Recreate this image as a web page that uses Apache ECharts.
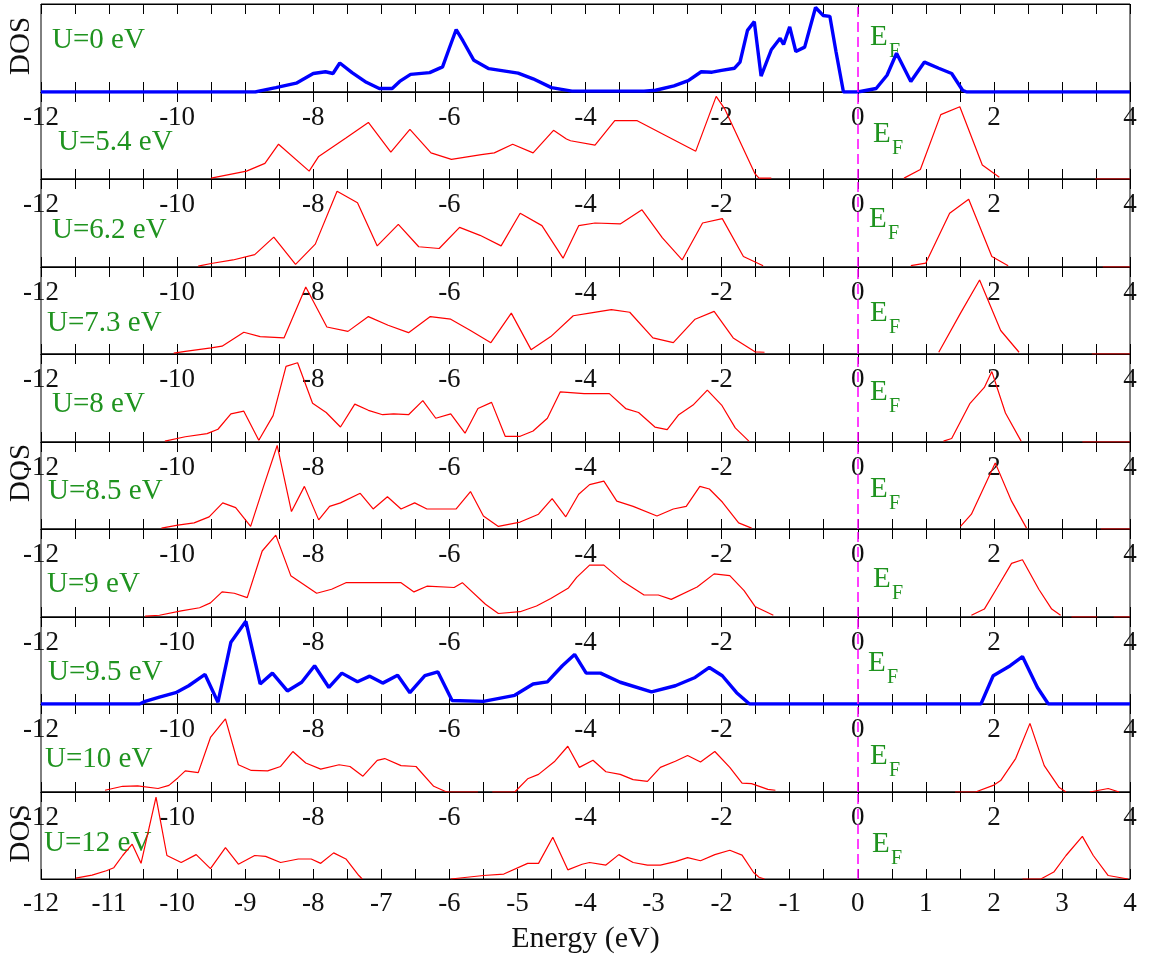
<!DOCTYPE html>
<html>
<head>
<meta charset="utf-8">
<script src="https://cdn.jsdelivr.net/npm/echarts@6/dist/echarts.min.js"></script>
<style>html,body{margin:0;padding:0;background:#fff}#c{width:1149px;height:958px}</style>
</head>
<body>
<div id="c"></div>
<script>
// ---------------- DATA ----------------
const uLabels = ['U=0 eV','U=5.4 eV','U=6.2 eV','U=7.3 eV','U=8 eV','U=8.5 eV','U=9 eV','U=9.5 eV','U=10 eV','U=12 eV'];
const innerTickLabels = [-12,-10,-8,-6,-4,-2,0,2,4];
const bottomTickLabels = [-12,-11,-10,-9,-8,-7,-6,-5,-4,-3,-2,-1,0,1,2,3,4];
const fermiEnergy = 0;

const dosU0 = [[[-12,0],[-8.85,0],[-8.8,0.01],[-8.55,0.05],[-8.25,0.10],[-8.0,0.21],[-7.82,0.23],[-7.71,0.21],[-7.61,0.33],[-7.43,0.22],[-7.22,0.11],[-7.03,0.04],[-6.84,0.04],[-6.73,0.12],[-6.57,0.20],[-6.29,0.22],[-6.10,0.285],[-6.0,0.50],[-5.90,0.71],[-5.80,0.58],[-5.64,0.36],[-5.42,0.265],[-4.99,0.215],[-4.77,0.15],[-4.5,0.05],[-4.2,0.01],[-3.89,0.01],[-3.14,0.01],[-2.97,0.02],[-2.70,0.07],[-2.49,0.13],[-2.30,0.23],[-2.14,0.225],[-2.0,0.245],[-1.81,0.27],[-1.73,0.34],[-1.62,0.70],[-1.52,0.80],[-1.42,0.18],[-1.27,0.48],[-1.14,0.61],[-1.09,0.54],[-1.0,0.74],[-0.91,0.46],[-0.78,0.51],[-0.62,0.96],[-0.51,0.87],[-0.41,0.86],[-0.32,0.46],[-0.21,0],[0,0],[0.27,0.04],[0.43,0.19],[0.57,0.44],[0.78,0.12],[0.98,0.34],[1.19,0.27],[1.38,0.21],[1.54,0.02],[1.6,0],[4,0]]];

const dosU54 = [
  [[-9.50,0.01],[-8.98,0.09],[-8.71,0.18],[-8.51,0.40],[-8.06,0.09],[-7.92,0.26],[-7.52,0.47],[-7.19,0.65],[-6.86,0.31],[-6.58,0.57],[-6.27,0.30],[-5.97,0.225],[-5.53,0.28],[-5.34,0.30],[-5.07,0.40],[-4.77,0.30],[-4.47,0.56],[-4.28,0.46],[-4.22,0.44],[-3.86,0.39],[-3.57,0.67],[-3.24,0.67],[-2.38,0.32],[-2.08,0.95],[-1.95,0.80],[-1.51,0.06],[-1.45,0.01],[-1.27,0.01]],
  [[0.68,0.01],[0.92,0.11],[1.22,0.74],[1.50,0.83],[1.83,0.16],[2.08,0.02]],
  [[3.49,0],[4,0]]
];

const dosU62 = [
  [[-9.69,0.01],[-9.5,0.04],[-9.18,0.08],[-8.86,0.14],[-8.58,0.34],[-8.26,0.03],[-7.97,0.26],[-7.65,0.86],[-7.35,0.73],[-7.06,0.24],[-6.75,0.485],[-6.45,0.23],[-6.15,0.21],[-5.85,0.45],[-5.55,0.36],[-5.24,0.24],[-4.96,0.61],[-4.64,0.47],[-4.33,0.10],[-4.1,0.47],[-3.86,0.50],[-3.49,0.49],[-3.17,0.65],[-2.87,0.33],[-2.58,0.08],[-2.28,0.50],[-1.99,0.55],[-1.68,0.12],[-1.39,0.015]],
  [[0.78,0.015],[1.0,0.045],[1.35,0.61],[1.63,0.77],[1.97,0.12],[2.21,0.015]],
  [[3.6,0],[4,0]]
];

const dosU73 = [
  [[-10.05,0.01],[-9.88,0.03],[-9.5,0.07],[-9.34,0.09],[-9.02,0.25],[-8.78,0.20],[-8.43,0.185],[-8.11,0.77],[-7.80,0.31],[-7.49,0.26],[-7.19,0.43],[-6.90,0.33],[-6.60,0.245],[-6.28,0.43],[-5.98,0.40],[-5.69,0.27],[-5.39,0.13],[-5.09,0.47],[-4.80,0.05],[-4.51,0.20],[-4.18,0.44],[-3.94,0.47],[-3.62,0.51],[-3.35,0.48],[-3.01,0.185],[-2.71,0.13],[-2.39,0.40],[-2.11,0.49],[-1.83,0.185],[-1.51,0.025],[-1.37,0.02]],
  [[1.19,0.02],[1.51,0.47],[1.79,0.85],[2.10,0.27],[2.37,0.02]],
  [[3.44,0],[4,0]]
];

const dosU8 = [
  [[-10.18,0.01],[-9.88,0.06],[-9.56,0.095],[-9.40,0.145],[-9.21,0.32],[-9.02,0.35],[-8.80,0.02],[-8.59,0.30],[-8.40,0.86],[-8.23,0.90],[-8.01,0.44],[-7.81,0.335],[-7.60,0.17],[-7.39,0.43],[-7.19,0.36],[-6.98,0.31],[-6.82,0.32],[-6.60,0.31],[-6.39,0.47],[-6.20,0.27],[-5.98,0.32],[-5.77,0.10],[-5.58,0.38],[-5.38,0.45],[-5.18,0.065],[-4.96,0.065],[-4.77,0.125],[-4.56,0.27],[-4.37,0.57],[-4.02,0.55],[-3.65,0.55],[-3.41,0.38],[-3.22,0.335],[-2.98,0.17],[-2.80,0.14],[-2.63,0.31],[-2.42,0.42],[-2.21,0.59],[-2.0,0.42],[-1.80,0.16],[-1.60,0.01]],
  [[1.26,0.01],[1.38,0.04],[1.65,0.44],[1.86,0.62],[1.97,0.80],[2.17,0.33],[2.40,0.01]],
  [[3.3,0],[4,0]]
];

const dosU85 = [
  [[-10.23,0.01],[-9.99,0.045],[-9.75,0.07],[-9.53,0.14],[-9.33,0.30],[-9.14,0.245],[-8.92,0.03],[-8.73,0.49],[-8.53,0.96],[-8.32,0.20],[-8.13,0.49],[-7.92,0.105],[-7.76,0.26],[-7.60,0.30],[-7.31,0.41],[-7.12,0.23],[-6.91,0.37],[-6.71,0.23],[-6.51,0.30],[-6.33,0.23],[-5.90,0.23],[-5.69,0.43],[-5.50,0.15],[-5.28,0.03],[-4.96,0.08],[-4.69,0.17],[-4.49,0.35],[-4.29,0.14],[-4.10,0.40],[-3.94,0.51],[-3.73,0.55],[-3.54,0.32],[-3.30,0.26],[-2.95,0.15],[-2.71,0.23],[-2.52,0.26],[-2.32,0.49],[-2.18,0.46],[-1.99,0.31],[-1.75,0.07],[-1.56,0.01]],
  [[1.51,0.03],[1.67,0.17],[2.02,0.76],[2.26,0.32],[2.48,0.01]],
  [[3.57,0],[4,0]]
];

const dosU9 = [
  [[-10.47,0.01],[-10.26,0.02],[-9.94,0.07],[-9.67,0.105],[-9.51,0.16],[-9.34,0.285],[-9.16,0.27],[-8.97,0.22],[-8.75,0.75],[-8.55,0.93],[-8.33,0.47],[-7.95,0.27],[-7.73,0.315],[-7.52,0.39],[-6.71,0.39],[-6.52,0.285],[-6.33,0.35],[-5.93,0.335],[-5.81,0.39],[-5.47,0.145],[-5.28,0.04],[-4.96,0.06],[-4.72,0.125],[-4.51,0.21],[-4.25,0.33],[-4.13,0.45],[-3.94,0.59],[-3.73,0.59],[-3.46,0.41],[-3.14,0.25],[-2.93,0.25],[-2.74,0.20],[-2.36,0.34],[-2.11,0.49],[-1.88,0.47],[-1.67,0.30],[-1.51,0.12],[-1.24,0.02]],
  [[1.67,0.02],[1.86,0.09],[2.05,0.335],[2.26,0.61],[2.42,0.65],[2.66,0.315],[2.85,0.09],[2.98,0.02]],
  [[3.14,0],[3.52,0]],
  [[3.76,0],[4,0]]
];

const dosU95 = [[[-12,0],[-10.55,0],[-10.47,0.03],[-10.26,0.08],[-10.02,0.13],[-9.83,0.21],[-9.59,0.34],[-9.40,0.02],[-9.21,0.71],[-8.99,0.95],[-8.78,0.23],[-8.60,0.355],[-8.38,0.15],[-8.17,0.25],[-7.98,0.44],[-7.77,0.19],[-7.58,0.355],[-7.35,0.255],[-7.17,0.32],[-6.98,0.24],[-6.76,0.33],[-6.58,0.13],[-6.36,0.325],[-6.17,0.37],[-5.96,0.04],[-5.50,0.03],[-5.04,0.10],[-4.77,0.23],[-4.56,0.255],[-4.34,0.44],[-4.16,0.57],[-3.99,0.355],[-3.78,0.355],[-3.49,0.25],[-3.03,0.14],[-2.68,0.21],[-2.39,0.305],[-2.18,0.42],[-1.99,0.325],[-1.78,0.13],[-1.59,0],[1.81,0],[1.99,0.325],[2.24,0.44],[2.42,0.545],[2.64,0.19],[2.80,0],[4,0]]];

const dosU10 = [
  [[-11.06,0.02],[-10.80,0.065],[-10.58,0.07],[-10.28,0.04],[-10.12,0.075],[-9.99,0.16],[-9.88,0.24],[-9.69,0.22],[-9.51,0.62],[-9.29,0.83],[-9.10,0.31],[-8.91,0.245],[-8.67,0.24],[-8.48,0.29],[-8.30,0.46],[-8.11,0.33],[-7.89,0.26],[-7.62,0.31],[-7.46,0.29],[-7.27,0.18],[-7.06,0.36],[-6.95,0.38],[-6.71,0.30],[-6.49,0.29],[-6.23,0.065],[-6.04,0],[-5.58,0]],
  [[-5.37,0],[-5.04,0],[-4.85,0.15],[-4.69,0.20],[-4.45,0.35],[-4.26,0.52],[-4.09,0.28],[-3.89,0.36],[-3.70,0.23],[-3.49,0.20],[-3.30,0.14],[-3.09,0.12],[-2.90,0.28],[-2.68,0.35],[-2.50,0.415],[-2.31,0.34],[-2.10,0.46],[-1.88,0.28],[-1.70,0.10],[-1.56,0.095],[-1.32,0.03],[-1.21,0.02]],
  [[1.43,0],[1.73,0],[1.99,0.075],[2.10,0.13],[2.32,0.38],[2.53,0.78],[2.74,0.30],[2.96,0.05],[3.06,0]],
  [[3.41,0],[3.68,0.04],[3.84,0]]
];

const dosU12 = [
  [[-11.49,0.01],[-11.25,0.045],[-11.04,0.095],[-10.93,0.13],[-10.80,0.27],[-10.66,0.40],[-10.53,0.18],[-10.31,0.94],[-10.15,0.27],[-9.94,0.19],[-9.72,0.28],[-9.51,0.12],[-9.29,0.36],[-9.10,0.17],[-8.86,0.27],[-8.70,0.26],[-8.48,0.19],[-8.22,0.23],[-8.03,0.23],[-7.89,0.18],[-7.70,0.30],[-7.52,0.23],[-7.33,0.04],[-7.28,0]],
  [[-5.98,0],[-5.50,0.04],[-5.20,0.057],[-4.85,0.18],[-4.69,0.18],[-4.48,0.48],[-4.26,0.105],[-4.05,0.17],[-3.94,0.19],[-3.70,0.16],[-3.51,0.28],[-3.30,0.19],[-3.09,0.16],[-2.90,0.16],[-2.68,0.20],[-2.50,0.245],[-2.31,0.21],[-2.10,0.28],[-1.88,0.33],[-1.70,0.275],[-1.53,0.075],[-1.45,0.02],[-1.37,0]],
  [[2.42,0],[2.69,0],[2.88,0.08],[3.06,0.27],[3.30,0.49],[3.46,0.27],[3.68,0.04],[3.97,0]]
];

const panelData = [dosU0, dosU54, dosU62, dosU73, dosU8, dosU85, dosU9, dosU95, dosU10, dosU12];
const blueIdx = [0, 7];
const dosLabelPanels = [0, 5, 9];

// ---------------- LAYOUT / STYLE ----------------
const FONT = '"Liberation Serif","Times New Roman",serif';
const GREEN = '#1f931f';
const left = 41, right = 1130, top0 = 4, bottomY = 879;
const nP = 10;
const pH = (bottomY - top0) / nP;
const labelPos = [[52,40],[58,142],[52,230],[47,323],[52,404],[48,491],[47,584],[48,672],[45,759],[44,843]];
const efPos = [[870,37],[873,134],[869,219],[870,313],[870,392],[870,489],[873,579],[868,663],[870,756],[872,844]];

const grids = [], xAxes = [], yAxes = [], series = [], graphics = [];
for (let i = 0; i < nP; i++) {
  const t = Math.round(top0 + i * pH), b = Math.round(top0 + (i + 1) * pH);
  grids.push({left: left, width: right - left, top: t, height: b - t, show: true, borderColor: '#000', borderWidth: 1, backgroundColor: 'transparent'});
  const isBottom = i === nP - 1;
  const shown = isBottom ? bottomTickLabels : innerTickLabels;
  xAxes.push({
    gridIndex: i, type: 'value', min: -12, max: 4, interval: 0.5, position: 'bottom',
    axisLine: {show: true, onZero: false, lineStyle: {color: '#000', width: 1}},
    axisTick: {show: true, inside: true, length: 10, lineStyle: {color: '#000', width: 1}},
    splitLine: {show: false},
    axisLabel: {show: true, margin: isBottom ? 11 : 12, fontFamily: FONT, fontSize: 27, color: '#111',
      formatter: v => shown.some(s => Math.abs(s - v) < 1e-6) ? String(Math.round(v)) : ''}
  });
  xAxes.push({
    gridIndex: i, type: 'value', min: -12, max: 4, interval: 0.5, position: 'top',
    axisLine: {show: true, onZero: false, lineStyle: {color: '#000', width: 1}},
    axisTick: {show: true, inside: true, length: 10, lineStyle: {color: '#000', width: 1}},
    splitLine: {show: false}, axisLabel: {show: false}
  });
  yAxes.push({gridIndex: i, type: 'value', min: 0, max: 1, show: false});
  const isBlue = blueIdx.includes(i);
  panelData[i].forEach((seg, k) => {
    const s = {
      type: 'line', xAxisIndex: 2 * i, yAxisIndex: i, data: seg, showSymbol: false, symbol: 'none',
      silent: true, animation: false, z: isBlue ? 3 : 2,
      lineStyle: {color: isBlue ? '#0000ff' : '#ff0000', width: isBlue ? 3.4 : 1.2}
    };
    if (k === 0) {
      s.markLine = {silent: true, symbol: 'none', animation: false, label: {show: false},
        lineStyle: {color: '#ff00ff', type: [10, 5], width: 1.5}, data: [{xAxis: fermiEnergy}]};
    }
    series.push(s);
  });
  graphics.push({type: 'text', x: labelPos[i][0], y: labelPos[i][1], silent: true,
    style: {text: uLabels[i], fill: GREEN, font: '29px ' + FONT, align: 'left', verticalAlign: 'middle'}});
  graphics.push({type: 'text', x: efPos[i][0], y: efPos[i][1], silent: true,
    style: {text: 'E', fill: GREEN, font: '29px ' + FONT, align: 'left', verticalAlign: 'middle'}});
  graphics.push({type: 'text', x: efPos[i][0] + 19, y: efPos[i][1] + 15, silent: true,
    style: {text: 'F', fill: GREEN, font: '20px ' + FONT, align: 'left', verticalAlign: 'middle'}});
  if (dosLabelPanels.includes(i)) {
    graphics.push({type: 'text', x: 21, y: (i === 5 ? t + 31 : (t + b) / 2 - 2), rotation: Math.PI / 2, silent: true,
      style: {text: 'DOS', fill: '#111', font: '29px ' + FONT, align: 'center', verticalAlign: 'middle'}});
  }
}
graphics.push({type: 'text', x: (left + right) / 2, y: 939, silent: true,
  style: {text: 'Energy (eV)', fill: '#111', font: '30px ' + FONT, align: 'center', verticalAlign: 'middle'}});

const chart = echarts.init(document.getElementById('c'), null, {renderer: 'canvas'});
chart.setOption({
  animation: false,
  backgroundColor: '#fff',
  grid: grids, xAxis: xAxes, yAxis: yAxes, series: series, graphic: graphics
});
</script>
</body>
</html>
